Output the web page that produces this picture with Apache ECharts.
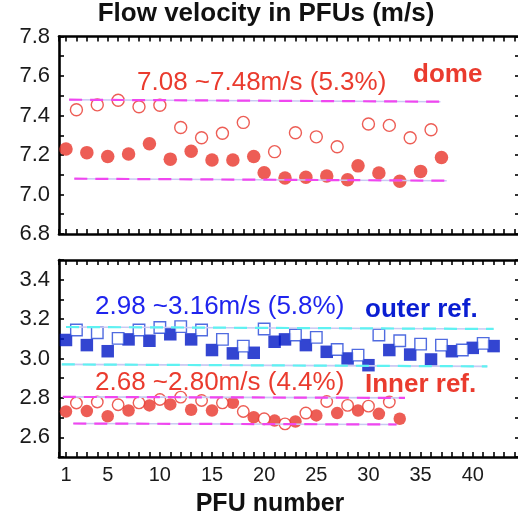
<!DOCTYPE html>
<html>
<head>
<meta charset="utf-8">
<script src="https://cdn.jsdelivr.net/npm/echarts@6/dist/echarts.min.js"></script>
<style>html,body{margin:0;padding:0;background:#fff}#c{width:518px;height:514px}</style>
</head>
<body>
<div id="c"></div>
<script>
// ---- data ----
const domeFilledPFU = [1,3,5,7,9,11,13,15,17,19,20,22,24,26,28,29,31,33,35,37];
const domeFilledVel = [7.230,7.212,7.192,7.205,7.257,7.179,7.219,7.175,7.175,7.192,7.110,7.084,7.087,7.094,7.075,7.145,7.109,7.067,7.117,7.187];
const domeOpenPFU = [2,4,6,8,10,12,14,16,18,21,23,25,27,30,32,34,36];
const domeOpenVel = [7.429,7.454,7.477,7.444,7.452,7.339,7.287,7.310,7.365,7.217,7.313,7.292,7.242,7.357,7.350,7.287,7.328];

const outerFilledPFU = [1,3,5,7,9,11,13,15,17,19,21,22,24,26,28,30,32,34,36,38,40,42];
const outerFilledVel = [3.094,3.068,3.037,3.097,3.090,3.123,3.097,3.043,3.026,3.029,3.085,3.097,3.068,3.034,3.000,2.966,3.043,3.020,2.995,3.037,3.054,3.063];
const outerOpenPFU = [2,4,6,8,10,12,14,16,18,20,23,25,27,29,31,33,35,37,39,41];
const outerOpenVel = [3.145,3.131,3.102,3.145,3.157,3.162,3.145,3.097,3.063,3.150,3.119,3.107,3.046,3.017,3.119,3.090,3.073,3.068,3.043,3.077];

const innerFilledPFU = [1,3,5,7,9,11,13,15,17,19,21,23,25,27,29,31,33];
const innerFilledVel = [2.731,2.733,2.707,2.736,2.762,2.767,2.740,2.736,2.775,2.702,2.685,2.680,2.711,2.723,2.736,2.719,2.694];
const innerOpenPFU = [2,4,6,8,10,12,14,16,18,20,22,24,26,28,30,32];
const innerOpenVel = [2.774,2.779,2.765,2.775,2.792,2.804,2.787,2.775,2.731,2.694,2.668,2.723,2.782,2.762,2.758,2.779];

// range guide lines: [x, y] end points
const domeUpper = [[1.3,7.48],[36.9,7.47]];
const domeLower = [[1.8,7.08],[37.5,7.07]];
const outerUpper = [[1.0,3.16],[42.0,3.15]];
const outerLower = [[0.6,2.97],[41.4,2.96]];
const innerUpper = [[0.7,2.805],[33.5,2.80]];
const innerLower = [[1.7,2.67],[32.7,2.665]];

const xLabels = [1,5,10,15,20,25,30,35,40];
const topYLabels = [6.8,7.0,7.2,7.4,7.6,7.8];
const botYLabels = [2.6,2.8,3.0,3.2,3.4];

// ---- styling ----
const FONT = 'Liberation Sans, Arial, Helvetica, sans-serif';
const RED = '#e8342a';
const REDTXT = '#ea3b2e';
const BLUE = '#0016c6';
const BLUEOPEN = '#2446d8';
const BLUETXT = '#1f24ee';
const MAG = '#f046f0';
const CYAN = '#5ef2f2';
const LAV = '#c9c9f2';
const XMIN = 0.33, XMAX = 44.53;

const zip = (a,b) => a.map((v,i)=>[v,b[i]]);

const chart = echarts.init(document.getElementById('c'));

const frameLine = () => ({show:true, onZero:false, lineStyle:{color:'#000', width:2.6}});
const tk = (len) => ({show:true, inside:true, length:len, lineStyle:{color:'#000', width:1.6}});

const grids = [
  {left:59, width:461, top:36.5, height:197.5, outerBoundsMode:'none', containLabel:false},
  {left:59, width:461, top:260, height:197, outerBoundsMode:'none', containLabel:false}
];

function xAx(g, pos, label) {
  const a = {type:'value', gridIndex:g, position:pos, min:XMIN, max:XMAX,
    splitNumber:44, minInterval:1, maxInterval:1,
    splitLine:{show:false}, axisLine:frameLine(), axisTick:tk(5), axisLabel:{show:false}};
  if (label) a.axisLabel = {show:true, customValues:xLabels, margin:8, color:'#1a1a1a', fontSize:20, fontFamily:FONT};
  return a;
}
function yAx(g, pos, min, max, labels) {
  const a = {type:'value', gridIndex:g, position:pos, min:min, max:max,
    splitNumber:10, minInterval:0.1, maxInterval:0.1,
    splitLine:{show:false}, axisLine:frameLine(), axisTick:tk(5), axisLabel:{show:false}};
  if (labels) a.axisLabel = {show:true, customValues:labels, margin:9, color:'#1a1a1a', fontSize:22, fontFamily:FONT,
    formatter:v=>(+v).toFixed(1)};
  return a;
}

const xAxes = [xAx(0,'bottom'), xAx(0,'top'), xAx(1,'bottom',true), xAx(1,'top')];
const yAxes = [yAx(0,'left',6.8,7.8,topYLabels), yAx(0,'right',6.8,7.8), yAx(1,'left',2.5,3.5,botYLabels), yAx(1,'right',2.5,3.5)];

function guide(xi, yi, data, color) {
  return [
    {type:'line', xAxisIndex:xi, yAxisIndex:yi, data:data, symbol:'none', silent:true,
     lineStyle:{color:LAV, width:1.6, type:'solid'}},
    {type:'line', xAxisIndex:xi, yAxisIndex:yi, data:data, symbol:'none', silent:true,
     lineStyle:{color:color, width:2.2, type:[13,8]}}
  ];
}

const series = [].concat(
  guide(0,0,domeUpper,MAG), guide(0,0,domeLower,MAG),
  guide(2,2,outerUpper,CYAN), guide(2,2,outerLower,CYAN),
  guide(2,2,innerUpper,MAG), guide(2,2,innerLower,MAG),
  [
    {type:'scatter', xAxisIndex:0, yAxisIndex:0, data:zip(domeFilledPFU,domeFilledVel), symbol:'circle', symbolSize:13.5,
     itemStyle:{color:RED}},
    {type:'scatter', xAxisIndex:0, yAxisIndex:0, data:zip(domeOpenPFU,domeOpenVel), symbol:'circle', symbolSize:12,
     itemStyle:{color:'#fff', borderColor:RED, borderWidth:1.4}},
    {type:'scatter', xAxisIndex:2, yAxisIndex:2, data:zip(outerFilledPFU,outerFilledVel), symbol:'rect', symbolSize:12.5,
     itemStyle:{color:BLUE}},
    {type:'scatter', xAxisIndex:2, yAxisIndex:2, data:zip(outerOpenPFU,outerOpenVel), symbol:'rect', symbolSize:11.5,
     itemStyle:{color:'#fff', borderColor:BLUEOPEN, borderWidth:1.4}},
    {type:'scatter', xAxisIndex:2, yAxisIndex:2, data:zip(innerFilledPFU,innerFilledVel), symbol:'circle', symbolSize:12.5,
     itemStyle:{color:RED}},
    {type:'scatter', xAxisIndex:2, yAxisIndex:2, data:zip(innerOpenPFU,innerOpenVel), symbol:'circle', symbolSize:11.5,
     itemStyle:{color:'#fff', borderColor:RED, borderWidth:1.4}}
  ]
);

function txt(s, x, y, color, size, weight, align) {
  return {type:'text', x:x, y:y,
    style:{text:s, fill:color, font:(weight||'normal')+' '+size+'px '+FONT, align:align||'left', verticalAlign:'middle'}};
}

chart.setOption({
  animation:false,
  grid:grids,
  xAxis:xAxes,
  yAxis:yAxes,
  series:series,
  graphic:[
    txt('Flow velocity in PFUs (m/s)', 266, 14, '#111', 26, 'bold', 'center'),
    txt('7.08 ~7.48m/s (5.3%)', 137, 83, REDTXT, 26),
    txt('dome', 413, 75, REDTXT, 26, 'bold'),
    txt('2.98 ~3.16m/s (5.8%)', 95, 307, BLUETXT, 26),
    txt('outer ref.', 365, 310, '#0a1ed2', 26, 'bold'),
    txt('2.68 ~2.80m/s (4.4%)', 95, 383, REDTXT, 26),
    txt('Inner ref.', 365, 385, REDTXT, 26, 'bold'),
    txt('PFU number', 270, 504, '#111', 25, 'bold', 'center')
  ]
});
</script>
</body>
</html>
